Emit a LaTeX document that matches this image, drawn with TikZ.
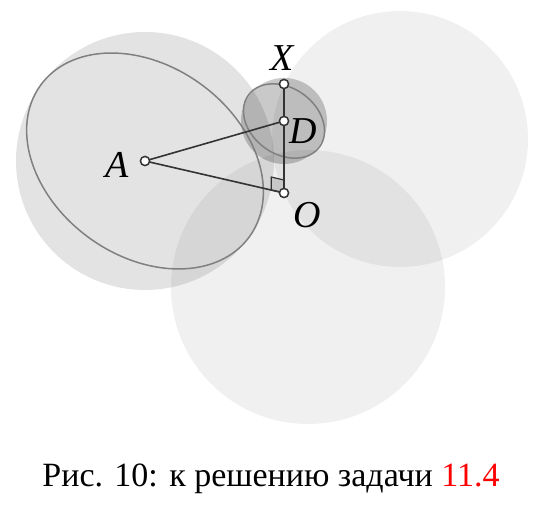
\documentclass[tikz,border=0pt]{standalone}
\usepackage{fontspec}
\setmainfont{Liberation Serif}
\usetikzlibrary{positioning, calc}
\definecolor{linegray}{HTML}{333333}
\definecolor{rimgray}{HTML}{808080}
\tikzset{
  ball/.style={fill=black, fill opacity=0.06},
  bigball/.style={fill=black, fill opacity=0.11},
  smallball/.style={fill=black, fill opacity=0.21},
  rim/.style={draw=rimgray, line width=0.75pt},
  seg/.style={draw=linegray, line width=0.8pt},
  rightmark/.style={draw=linegray, line width=0.6pt, fill=black!22},
  point/.style={
    circle,
    draw=linegray, line width=0.75pt,
    fill=white,
    inner sep=0pt,
    minimum size=4.6pt},
  lbl/.style={inner sep=0pt, font=\fontsize{19}{22}\selectfont\itshape},
  caption/.style={inner sep=0pt, font=\fontsize{17}{20}\selectfont},
}
\begin{document}
\begin{tikzpicture}[x=0.5pt, y=0.5pt]
     \useasboundingbox (0,0) rectangle (554,507);
     \path (145,346) coordinate (A)
           (284,386) coordinate (D)
           (284,423) coordinate (X)
           (284,314) coordinate (O);
     % spheres
     \fill[bigball]   (A) circle[radius=129];
     \fill[ball]      (400,368) circle[radius=128];
     \fill[ball]      (308,220) circle[radius=137];
     \fill[smallball] (D) circle[radius=43];
     \draw[rim, rotate around={-36:(A)}] (A) ellipse[x radius=129, y radius=95];
     \draw[rim, rotate around={-36:(D)}] (D) ellipse[x radius=44, y radius=33];
     % right angle at O
     \coordinate (P) at ($(O)!6.5pt!(A)$);
     \coordinate (Q) at ($(O)!6.5pt!(X)$);
     \draw[rightmark] (O) -- (P) -- ($(P)+(Q)-(O)$) -- (Q) -- cycle;
     \draw[seg] (A) -- (D);
     \draw[seg] (A) -- (O);
     \draw[seg] (X) -- (D) -- (O);
     \foreach \p in {A,D,X,O}
       \node[point] (\p-pt) at (\p) {};
     \node[lbl, above=6.5pt of X, xshift=-1pt] (Xlbl) {X};
     \node[lbl, right=2.5pt of D, yshift=-5pt] (Dlbl) {D};
     \node[lbl, left=8pt of A, yshift=-2pt]   (Albl) {A};
     \node[lbl, below right=4.5pt and 4.6pt of O] (Olbl) {O};
     \node[caption, anchor=base] (cap) at (271,20) {Рис. 10: к решению задачи \textcolor{red}{11.4}};
\end{tikzpicture}
\end{document}
